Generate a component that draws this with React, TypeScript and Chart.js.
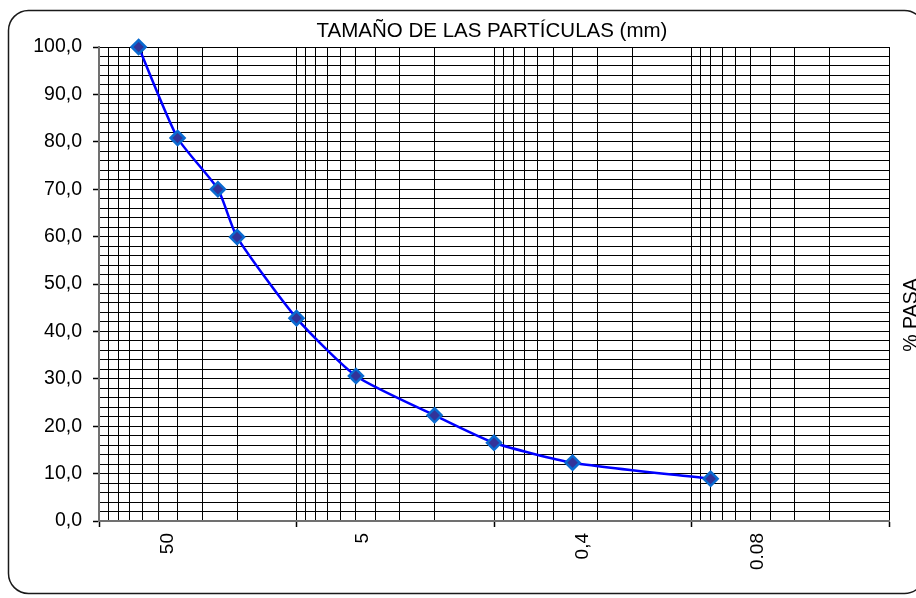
import React, { useEffect, useRef } from 'react';
import { Chart, registerables } from 'chart.js';

Chart.register(...registerables);

// ---- data ----
const sizesMm = [63, 40, 25, 20, 10, 5, 2, 1, 0.4, 0.08];
const percentPassing = [100, 80.8, 70.0, 59.9, 42.8, 30.6, 22.3, 16.5, 12.3, 8.9];

// x tick labels (text) and where they sit on the size axis (mm)
const xTickLabels = ['50', '5', '0,4', '0.08'];
const xTickLabelAt = [45, 4.6, 0.355, 0.046];

const xMin = 0.01;
const xMax = 100;
const yMin = 0;
const yMax = 100;
const yGridStep = 2;
const yLabelStep = 10;

const titleText = 'TAMAÑO DE LAS PARTÍCULAS (mm)';
const yTitleText = '% PASA';

const FONT = "'Liberation Sans', Arial, sans-serif";

// gridline values 1..9 x 10^k for each decade
const xGridValues: number[] = [];
for (let k = Math.round(Math.log10(xMin)); k < Math.round(Math.log10(xMax)); k++) {
  for (let m = 1; m <= 9; m++) xGridValues.push(Number((m * Math.pow(10, k)).toPrecision(6)));
}
xGridValues.push(xMax);

const isDecade = (v: number) => Math.abs(Math.log10(v) - Math.round(Math.log10(v))) < 1e-9;

const framePlugin = {
  id: 'frame',
  afterDraw(chart: any) {
    const ctx = chart.ctx;
    const area = chart.chartArea;
    ctx.save();
    // rounded outer frame
    ctx.strokeStyle = '#1a1a1a';
    ctx.lineWidth = 1.5;
    ctx.beginPath();
    (ctx as any).roundRect(8.5, 10.5, 916, 583, 20);
    ctx.stroke();
    // title
    ctx.fillStyle = '#000';
    ctx.font = `20.5px ${FONT}`;
    ctx.textAlign = 'center';
    ctx.textBaseline = 'alphabetic';
    ctx.fillText(titleText, (area.left + area.right) / 2 - 2, 37);
    // right-side vertical title
    ctx.translate(917, 315);
    ctx.rotate(-Math.PI / 2);
    ctx.font = `19.5px ${FONT}`;
    ctx.textAlign = 'center';
    ctx.fillText(yTitleText, 0, 0);
    ctx.restore();
  },
};

export default function App() {
  const ref = useRef<HTMLCanvasElement | null>(null);

  useEffect(() => {
    if (!ref.current) return;
    const chart = new Chart(ref.current, {
      type: 'scatter',
      data: {
        datasets: [
          {
            data: sizesMm.map((x, i) => ({ x, y: percentPassing[i] })),
            showLine: true,
            clip: false,
            borderColor: '#0000FF',
            borderWidth: 2.5,
            tension: 0.2,
            pointStyle: 'rectRot',
            pointRadius: 7,
            pointHoverRadius: 7,
            pointBackgroundColor: '#333399',
            pointBorderColor: '#0A6AD0',
            pointBorderWidth: 2.5,
          },
        ],
      },
      options: {
        responsive: false,
        animation: false,
        devicePixelRatio: 1,
        layout: { padding: { top: 47, right: 27, left: 0, bottom: 0 } },
        plugins: {
          legend: { display: false },
          tooltip: { enabled: false },
          title: { display: false },
        },
        scales: {
          x: {
            type: 'logarithmic',
            reverse: true,
            min: xMin,
            max: xMax,
            afterBuildTicks: (scale: any) => {
              scale.ticks = [
                ...xGridValues.map((v) => ({ value: v })),
                ...xTickLabelAt.map((v, i) => ({ value: v, lbl: xTickLabels[i] })),
              ];
            },
            afterFit: (scale: any) => {
              scale.height = 77;
            },
            border: { display: true, color: '#707070', width: 2 },
            grid: {
              display: true,
              drawTicks: true,
              tickLength: 6,
              color: (c: any) => (c.tick && c.tick.lbl ? 'rgba(0,0,0,0)' : '#000'),
              lineWidth: 1,
              tickColor: (c: any) =>
                c.tick && !c.tick.lbl && isDecade(c.tick.value) ? '#000' : 'rgba(0,0,0,0)',
              tickWidth: 1.5,
            },
            ticks: {
              autoSkip: false,
              minRotation: 90,
              maxRotation: 90,
              padding: 6,
              color: '#000',
              font: { family: FONT, size: 19 },
              callback: function (_v: any, i: number, ticks: any[]) {
                return ticks[i] && ticks[i].lbl ? ticks[i].lbl : '';
              },
            },
          },
          y: {
            type: 'linear',
            min: yMin,
            max: yMax,
            afterFit: (scale: any) => {
              scale.width = 99;
            },
            border: { display: true, color: '#707070', width: 2 },
            grid: {
              color: '#000',
              lineWidth: 1,
              tickLength: 6,
              tickColor: (c: any) =>
                c.tick && Math.round(c.tick.value) % yLabelStep === 0 ? '#000' : 'rgba(0,0,0,0)',
              tickWidth: 1.5,
            },
            ticks: {
              stepSize: yGridStep,
              autoSkip: false,
              padding: 11,
              color: '#000',
              font: { family: FONT, size: 19.5 },
              callback: (v: any) =>
                Math.round(v) % yLabelStep === 0 ? Number(v).toFixed(1).replace('.', ',') : '',
            },
          },
        },
      },
      plugins: [framePlugin],
    });
    return () => chart.destroy();
  }, []);

  return (
    <div
      style={{
        position: 'fixed',
        left: 0,
        top: 0,
        width: 916,
        height: 598,
        background: '#fff',
        overflow: 'hidden',
      }}
    >
      <canvas ref={ref} width={916} height={598} style={{ display: 'block' }} />
    </div>
  );
}
